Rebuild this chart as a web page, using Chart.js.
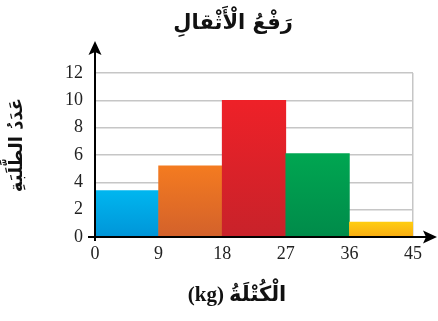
<!DOCTYPE html>
<html>
<head>
<meta charset="utf-8">
<script src="https://cdn.jsdelivr.net/npm/chart.js@4"></script>
<style>
  html, body { margin: 0; padding: 0; background: #fff; }
  #wrap { width: 438px; height: 321px; position: relative; }
</style>
</head>
<body>
<div id="wrap"><canvas id="histo"></canvas></div>
<script>
// data
const binEdges = [0, 9, 18, 27, 36, 45];
const counts = [3.4, 5.2, 10, 6.1, 1.1];
const yTicks = [0, 2, 4, 6, 8, 10, 12];
const titleText = 'رَفْعُ الْأَثْقالِ';
const xTitle = 'الْكُتْلَةُ (kg)';
const yTitle = 'عَدَدُ الطَّلَبَةِ';

// bar colours, top -> bottom
const tops = ['#00b6ef', '#f47b20', '#ee2128', '#00a651', '#ffcd10'];
const bottoms = ['#0095d8', '#d3612b', '#c8222a', '#008b4a', '#f7ab12'];

const mids = counts.map((c, i) => ({ x: (binEdges[i] + binEdges[i + 1]) / 2, y: c }));

function barFill(ctx) {
    const chart = ctx.chart;
    const i = ctx.dataIndex;
    if (!chart.chartArea || i === undefined) return tops[i] || tops[0];
    const y = chart.scales.y;
    const top = y.getPixelForValue(counts[i]);
    const bot = y.getPixelForValue(0);
    const g = chart.ctx.createLinearGradient(0, top, 0, bot);
    g.addColorStop(0, tops[i]);
    g.addColorStop(1, bottoms[i]);
    return g;
}

// axes arrows + titles
const extras = {
    id: 'extras',
    afterDraw(chart) {
        const c = chart.ctx;
        const x0 = chart.scales.x.getPixelForValue(0);
        const y0 = chart.scales.y.getPixelForValue(0);
        c.save();
        c.strokeStyle = '#000';
        c.fillStyle = '#000';
        c.lineWidth = 2;
        // x axis
        c.beginPath();
        c.moveTo(x0 - 7, y0);
        c.lineTo(426, y0);
        c.stroke();
        c.beginPath();
        c.moveTo(437, y0);
        c.lineTo(423, y0 - 6.5);
        c.lineTo(426, y0);
        c.lineTo(423, y0 + 6.5);
        c.closePath();
        c.fill();
        // y axis
        c.beginPath();
        c.moveTo(x0, y0 + 4);
        c.lineTo(x0, 52);
        c.stroke();
        c.beginPath();
        c.moveTo(x0, 41);
        c.lineTo(x0 - 6.5, 55);
        c.lineTo(x0, 52);
        c.lineTo(x0 + 6.5, 55);
        c.closePath();
        c.fill();

        // titles
        c.direction = 'rtl';
        c.textAlign = 'center';
        c.textBaseline = 'middle';
        c.fillStyle = '#111';
        c.font = 'bold 21px "DejaVu Sans"';
        c.fillText(titleText, 233, 24);
        c.font = 'bold 21px "Liberation Serif", "DejaVu Sans"';
        c.fillText(xTitle, 237, 296);
        c.translate(17, 145);
        c.rotate(-Math.PI / 2);
        c.font = 'bold 18px "DejaVu Sans"';
        c.fillText(yTitle, 0, 0);
        c.restore();
    }
};

new Chart(document.getElementById('histo'), {
    type: 'bar',
    data: {
        datasets: [{
            data: mids,
            backgroundColor: barFill,
            borderWidth: 0,
            barPercentage: 1,
            categoryPercentage: 1
        }]
    },
    options: {
        responsive: true,
        maintainAspectRatio: false,
        animation: false,
        layout: { padding: { left: 0, top: 73, right: 25, bottom: 0 } },
        plugins: { legend: { display: false }, tooltip: { enabled: false } },
        scales: {
            x: {
                type: 'linear',
                offset: false,
                min: binEdges[0],
                max: binEdges[binEdges.length - 1],
                afterBuildTicks: s => { s.ticks = binEdges.map(v => ({ value: v })); },
                afterFit: s => { s.height = 84; },
                grid: {
                    offset: false,
                    drawTicks: false,
                    lineWidth: 1.5,
                    color: ctx => ctx.tick && ctx.tick.value === 45 ? '#c6c6c6' : 'rgba(0,0,0,0)'
                },
                border: { display: false },
                ticks: {
                    padding: 6,
                    color: '#222',
                    font: { family: 'Liberation Serif', size: 18 }
                }
            },
            y: {
                min: 0,
                max: 12,
                afterBuildTicks: s => { s.ticks = yTicks.map(v => ({ value: v })); },
                afterFit: s => { s.width = 95; },
                grid: {
                    drawTicks: false,
                    lineWidth: 1.5,
                    color: '#c6c6c6'
                },
                border: { display: false },
                ticks: {
                    padding: 12,
                    color: '#222',
                    font: { family: 'Liberation Serif', size: 18 }
                }
            }
        }
    },
    plugins: [extras]
});
</script>
</body>
</html>
